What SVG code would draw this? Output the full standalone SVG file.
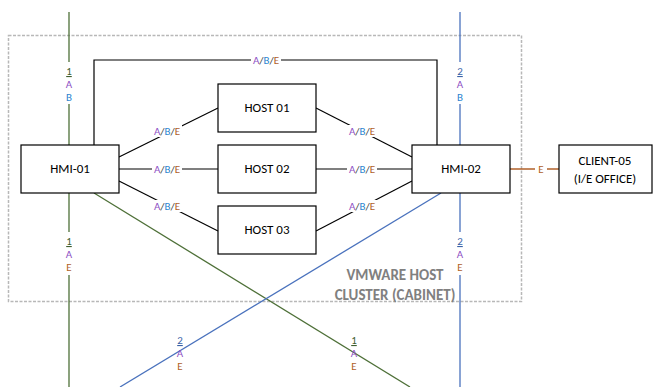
<svg xmlns="http://www.w3.org/2000/svg" width="653" height="387" viewBox="0 0 653 387">
<style>
.box{fill:#fff;stroke:#000;stroke-width:1.2}
.bt{font-family:Carlito,"Liberation Sans",sans-serif;font-size:13px;fill:#000;text-anchor:middle}
.lb{font-family:Carlito,"Liberation Sans",sans-serif;font-size:11px;text-anchor:middle}
.a{fill:#8e4fc4}.b{fill:#2e86d0}.e{fill:#b0602a}.s{fill:#444}
.g1{fill:#3f6030}.b2{fill:#3a63a8}
.gr{stroke:#4e7038;stroke-width:1.3;fill:none}
.bl{stroke:#4a72bd;stroke-width:1.3;fill:none}
.k{stroke:#000;stroke-width:1.2;fill:none}
.lbg{fill:#fff}
</style>
<rect x="8.5" y="35.5" width="513" height="266" fill="none" stroke="#b8b8b8" stroke-width="1.5" stroke-dasharray="3,1.5"/>
<text x="395" y="280" font-family="Carlito,'Liberation Sans',sans-serif" font-size="15" font-weight="bold" fill="#808080" text-anchor="middle">VMWARE HOST</text>
<text x="395" y="300" font-family="Carlito,'Liberation Sans',sans-serif" font-size="15" font-weight="bold" fill="#808080" text-anchor="middle">CLUSTER (CABINET)</text>
<g id="connectors">
<line class="gr" x1="69" y1="12" x2="69" y2="62"/>
<line class="gr" x1="69" y1="104" x2="69" y2="232"/>
<line class="gr" x1="69" y1="275" x2="69" y2="387"/>
<line class="bl" x1="460" y1="12" x2="460" y2="62"/>
<line class="bl" x1="460" y1="104" x2="460" y2="232"/>
<line class="bl" x1="460" y1="275" x2="460" y2="387"/>
<line class="gr" x1="94" y1="193" x2="410" y2="387"/>
<line class="bl" x1="441" y1="193" x2="120" y2="387"/>
<polyline class="k" points="94,145 94,60 437,60 437,145"/>
<line class="k" x1="119" y1="157" x2="218" y2="108"/>
<line class="k" x1="119" y1="169" x2="218" y2="169"/>
<line class="k" x1="119" y1="181" x2="218" y2="231"/>
<line class="k" x1="316" y1="108" x2="412" y2="157"/>
<line class="k" x1="316" y1="169" x2="412" y2="169"/>
<line class="k" x1="316" y1="231" x2="412" y2="181"/>
<line stroke="#b0602a" stroke-width="1.3" x1="510" y1="169" x2="559" y2="169"/>
<rect class="lbg" x="535" y="163" width="12" height="12"/>
<text class="lb e" x="541" y="173">E</text>
<rect class="lbg" x="251" y="54" width="30" height="12"/>
<rect class="lbg" x="152" y="125" width="30" height="12"/>
<rect class="lbg" x="152" y="163" width="30" height="12"/>
<rect class="lbg" x="152" y="200" width="30" height="12"/>
<rect class="lbg" x="347" y="125" width="30" height="12"/>
<rect class="lbg" x="347" y="163" width="30" height="12"/>
<rect class="lbg" x="347" y="200" width="30" height="12"/>
<g font-family="Carlito,'Liberation Sans',sans-serif" font-size="11" text-anchor="middle">
<text x="266" y="64"><tspan class="a">A</tspan><tspan class="s">/</tspan><tspan class="b">B</tspan><tspan class="s">/</tspan><tspan class="e">E</tspan></text>
<text x="167" y="135"><tspan class="a">A</tspan><tspan class="s">/</tspan><tspan class="b">B</tspan><tspan class="s">/</tspan><tspan class="e">E</tspan></text>
<text x="167" y="173"><tspan class="a">A</tspan><tspan class="s">/</tspan><tspan class="b">B</tspan><tspan class="s">/</tspan><tspan class="e">E</tspan></text>
<text x="167" y="210"><tspan class="a">A</tspan><tspan class="s">/</tspan><tspan class="b">B</tspan><tspan class="s">/</tspan><tspan class="e">E</tspan></text>
<text x="362" y="135"><tspan class="a">A</tspan><tspan class="s">/</tspan><tspan class="b">B</tspan><tspan class="s">/</tspan><tspan class="e">E</tspan></text>
<text x="362" y="173"><tspan class="a">A</tspan><tspan class="s">/</tspan><tspan class="b">B</tspan><tspan class="s">/</tspan><tspan class="e">E</tspan></text>
<text x="362" y="210"><tspan class="a">A</tspan><tspan class="s">/</tspan><tspan class="b">B</tspan><tspan class="s">/</tspan><tspan class="e">E</tspan></text>
</g>
<text class="lb g1" x="69" y="75" text-decoration="underline">1</text>
<text class="lb a" x="69" y="88">A</text>
<text class="lb b" x="69" y="101">B</text>
<text class="lb g1" x="69" y="245" text-decoration="underline">1</text>
<text class="lb a" x="69" y="258">A</text>
<text class="lb e" x="69" y="271">E</text>
<text class="lb b2" x="460" y="75" text-decoration="underline">2</text>
<text class="lb a" x="460" y="88">A</text>
<text class="lb b" x="460" y="101">B</text>
<text class="lb b2" x="460" y="245" text-decoration="underline">2</text>
<text class="lb a" x="460" y="258">A</text>
<text class="lb e" x="460" y="271">E</text>
<text class="lb b2" x="180" y="344" text-decoration="underline">2</text>
<text class="lb a" x="180" y="357">A</text>
<text class="lb e" x="180" y="370">E</text>
<text class="lb g1" x="354" y="344" text-decoration="underline">1</text>
<text class="lb a" x="354" y="357">A</text>
<text class="lb e" x="354" y="370">E</text>
</g>
<g id="hmi01"><rect class="box" x="21" y="145" width="98" height="48"/><text class="bt" x="70" y="173">HMI-01</text></g>
<g id="hmi02"><rect class="box" x="412" y="145" width="98" height="48"/><text class="bt" x="461" y="173">HMI-02</text></g>
<g id="host01"><rect class="box" x="218" y="84" width="98" height="48"/><text class="bt" x="267" y="112">HOST 01</text></g>
<g id="host02"><rect class="box" x="218" y="145" width="98" height="48"/><text class="bt" x="267" y="173">HOST 02</text></g>
<g id="host03"><rect class="box" x="218" y="206" width="98" height="48"/><text class="bt" x="267" y="234">HOST 03</text></g>
<g id="client05"><rect class="box" x="559" y="145" width="93" height="48"/><text class="bt" x="605" y="165">CLIENT-05</text><text class="bt" x="605" y="183">(I/E OFFICE)</text></g>
</svg>
